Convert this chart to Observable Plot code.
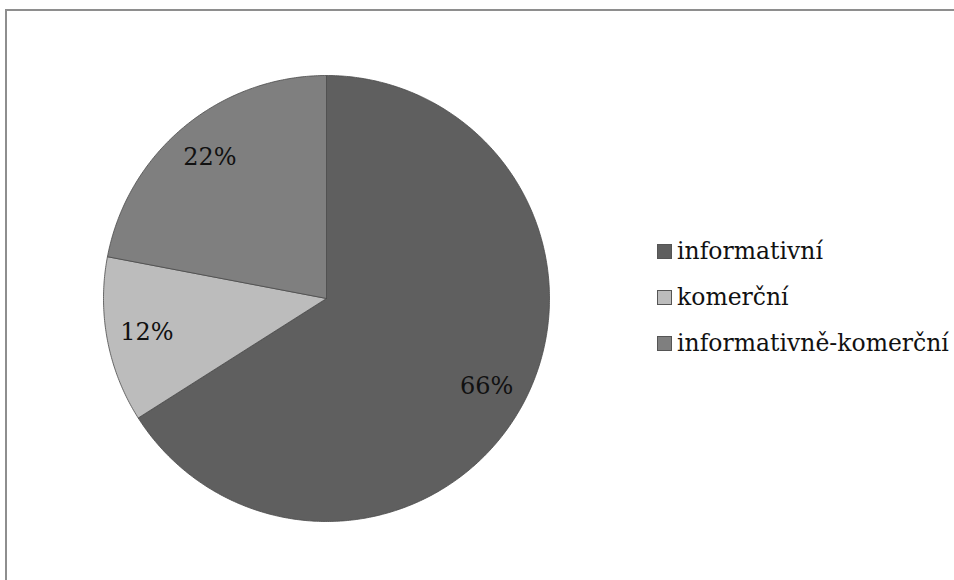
<!DOCTYPE html>
<html>
<head>
<meta charset="utf-8">
<script src="https://cdn.jsdelivr.net/npm/d3@7"></script>
<script src="https://cdn.jsdelivr.net/npm/@observablehq/plot@0.6"></script>
<style>
  html, body { margin: 0; padding: 0; background: #fff; overflow: hidden; width: 954px; height: 580px; }
  #wrap { position: relative; width: 954px; height: 580px; overflow: hidden; }
  #frame { position: absolute; left: 5px; top: 9px; width: 3000px; height: 3000px; border: 2px solid #8e8e8e; box-sizing: border-box; }
  #chart { position: absolute; left: 0; top: 0; }
  #legend { position: absolute; left: 657px; top: 228px; font-family: "DejaVu Serif", serif; font-size: 23.5px; color: #111; }
  .row { display: flex; align-items: center; height: 46px; white-space: nowrap; }
  .sw { width: 15px; height: 15px; border: 1px solid #555; margin-right: 5px; box-sizing: border-box; }
</style>
</head>
<body>
<div id="wrap">
  <div id="frame"></div>
  <div id="chart"></div>
  <div id="legend"></div>
</div>
<script>
const categories = ["informativní", "komerční", "informativně-komerční"];
const values = [66, 12, 22];
const labels = ["66%", "12%", "22%"];
const colors = ["#5f5f5f", "#bcbcbc", "#7f7f7f"];

const pie = d3.pie().sort(null).value(d => d.value)(
  categories.map((c, i) => ({category: c, value: values[i], label: labels[i]}))
);

// Build polygon outlines for each slice (angle measured clockwise from top)
const poly = [];
pie.forEach(a => {
  const n = Math.max(4, Math.ceil((a.endAngle - a.startAngle) / 0.01));
  poly.push({category: a.data.category, x: 0, y: 0});
  for (let k = 0; k <= n; k++) {
    const t = a.startAngle + (a.endAngle - a.startAngle) * k / n;
    poly.push({category: a.data.category, x: Math.sin(t), y: Math.cos(t)});
  }
  poly.push({category: a.data.category, x: 0, y: 0});
});

const labelPos = pie.map(a => {
  const m = (a.startAngle + a.endAngle) / 2;
  return {label: a.data.label, x: 0.82 * Math.sin(m), y: 0.82 * Math.cos(m)};
});

const chart = Plot.plot({
  width: 954,
  height: 580,
  margin: 0,
  x: {domain: [-1, 1], range: [103, 549], axis: null},
  y: {domain: [-1, 1], range: [521, 75], axis: null},
  color: {domain: categories, range: colors},
  style: {background: "transparent"},
  marks: [
    Plot.line(poly, {x: "x", y: "y", z: "category", fill: "category", stroke: "#4a4a4a", strokeWidth: 0.8, curve: "linear"}),
    Plot.text(labelPos, {x: "x", y: "y", text: "label", fontSize: 24, fontFamily: "DejaVu Serif", fill: "#111"})
  ]
});
document.getElementById("chart").appendChild(chart);

const legend = document.getElementById("legend");
categories.forEach((c, i) => {
  const row = document.createElement("div");
  row.className = "row";
  const sw = document.createElement("div");
  sw.className = "sw";
  sw.style.background = colors[i];
  const tx = document.createElement("span");
  tx.textContent = c;
  row.appendChild(sw);
  row.appendChild(tx);
  legend.appendChild(row);
});
</script>
</body>
</html>
